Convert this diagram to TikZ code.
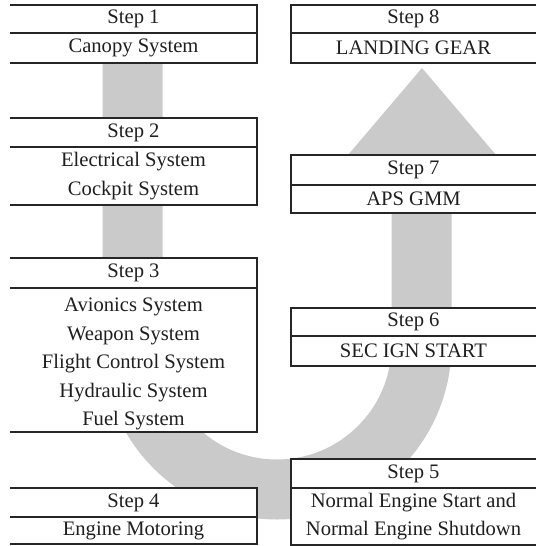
\documentclass[tikz,border=0pt]{standalone}
\usepackage{fontspec}
\setmainfont{Liberation Serif}
\begin{document}
\begin{tikzpicture}[x=1pt,y=-1pt,
  cell/.style={fill=white, inner sep=0pt, outer sep=0pt, anchor=north west, align=center,
    font=\fontsize{20.6}{28.6}\selectfont, text=black!88},
  lcell/.style={cell, minimum width=247pt},
  rcell/.style={cell, minimum width=245pt},
  boxline/.style={draw=black!85, line width=1.3pt},
  band/.style={color={rgb,255:red,202;green,202;blue,202}}]
\useasboundingbox (0,0) rectangle (536,546);
% gray U-turn arrow
\draw[band, line width=60pt] (132.5,63) -- (132.5,345)
  arc[start angle=180, end angle=360, radius=144.5pt] -- (421.5,160);
\fill[band] (422,68) -- (335.2,170) -- (508.8,170) -- cycle;
% left boxes
\node[lcell, minimum height=28pt] (s1h) at (10,5) {Step 1};
\node[lcell, minimum height=30pt] (s1b) at (10,33) {Canopy System};
\node[lcell, minimum height=29pt] (s2h) at (10,118) {Step 2};
\node[lcell, minimum height=58pt] (s2b) at (10,147) {Electrical System\\Cockpit System};
\node[lcell, minimum height=30pt] (s3h) at (10,258) {Step 3};
\node[lcell, minimum height=144pt] (s3b) at (10,288) {\rule{0pt}{22pt}Avionics System\\Weapon System\\Flight Control System\\Hydraulic System\\Fuel System};
\node[lcell, minimum height=29pt] (s4h) at (10,488) {Step 4};
\node[lcell, minimum height=27pt] (s4b) at (10,517) {Engine Motoring};
% right boxes
\node[rcell, minimum height=28pt] (s8h) at (291,5) {Step 8};
\node[rcell, minimum height=30pt] (s8b) at (291,33) {LANDING GEAR};
\node[rcell, minimum height=30pt] (s7h) at (291,155) {Step 7};
\node[rcell, minimum height=28pt] (s7b) at (291,185) {APS GMM};
\node[rcell, minimum height=28pt] (s6h) at (291,308) {Step 6};
\node[rcell, minimum height=30pt] (s6b) at (291,336) {SEC IGN START};
\node[rcell, minimum height=29pt] (s5h) at (291,459) {Step 5};
\node[rcell, minimum height=57pt] (s5b) at (291,488) {Normal Engine Start and\\Normal Engine Shutdown};
% borders of left boxes (open on the left)
\foreach \h/\b in {s1h/s1b, s2h/s2b, s3h/s3b, s4h/s4b}{
  \draw[boxline] (\h.north west) -- (\h.north east) -- (\b.south east) -- (\b.south west);
  \draw[boxline] (\h.south west) -- (\h.south east);
}
% borders of right boxes (open on the right)
\foreach \h/\b in {s8h/s8b, s7h/s7b, s6h/s6b, s5h/s5b}{
  \draw[boxline] (\h.north east) -- (\h.north west) -- (\b.south west) -- (\b.south east);
  \draw[boxline] (\h.south west) -- (\h.south east);
}
\end{tikzpicture}
\end{document}
